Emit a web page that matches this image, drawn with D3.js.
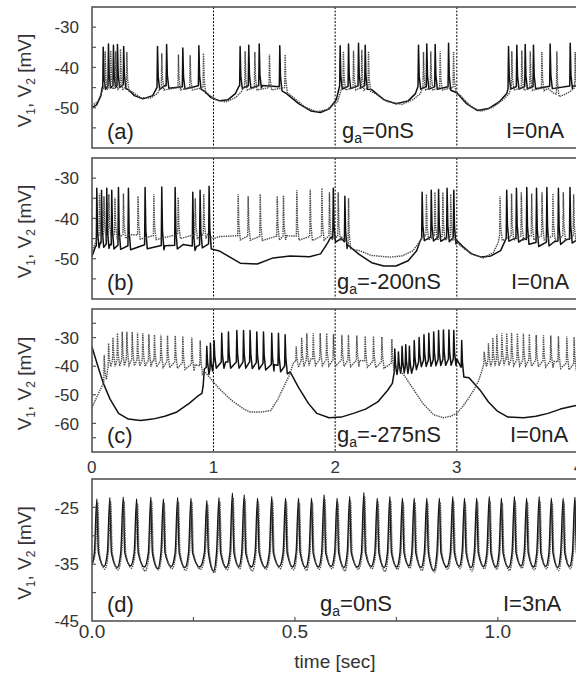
<!DOCTYPE html>
<html><head><meta charset="utf-8">
<script src="https://cdn.jsdelivr.net/npm/d3@7"></script>
<style>
html,body{margin:0;padding:0;background:#fff;}
svg{display:block;font-family:"Liberation Sans",Arial,sans-serif;}
</style></head><body>
<svg id="chart" width="576" height="675"></svg>
<script>
// ---------------- DATA ----------------
// Panel (a) g_a = 0 nS, I = 0 nA
const aBaseSolid = [[0,-50],[0.04,-49.3],[0.075,-47],[0.085,-45],[0.15,-44.5],[0.27,-44.3],[0.30,-45.5],[0.35,-47],[0.42,-47.8],[0.50,-47],[0.535,-45],[0.60,-44.5],[0.75,-44.8],[0.89,-44.5],[0.93,-46],[0.98,-47.5],[1.05,-48.3],[1.12,-48],[1.18,-46.5],[1.21,-44.6],[1.40,-44.5],[1.55,-44.8],[1.60,-46.5],[1.70,-49],[1.80,-50.8],[1.88,-51.2],[1.95,-50.3],[2.01,-48],[2.035,-44.8],[2.25,-44.5],[2.30,-45.5],[2.40,-48],[2.50,-49],[2.60,-48.3],[2.66,-46.5],[2.68,-44.8],[2.94,-44.8],[3.00,-46.3],[3.08,-49],[3.17,-50.7],[3.26,-50.2],[3.35,-48.5],[3.41,-46.5],[3.425,-44.8],[3.95,-44.6],[4.0,-44.6]];
const aSpikesSolid = [[0.094,-35.0],[0.137,-34.2],[0.178,-34.5],[0.211,-34.3],[0.262,-34.8],[0.540,-34.8],[0.615,-34.3],[0.748,-35.2],[0.880,-34.6],[1.219,-34.8],[1.290,-34.5],[1.376,-34.2],[1.545,-34.6],[2.041,-34.6],[2.110,-34.2],[2.192,-34.0],[2.247,-34.5],[2.685,-34.5],[2.753,-34.2],[2.822,-34.3],[2.932,-34.0],[3.425,-34.8],[3.493,-34.5],[3.562,-34.3],[3.630,-34.5],[3.767,-34.2],[3.932,-34.0]];
const aBaseDotted = [[0,-49.5],[0.05,-48.5],[0.09,-45.5],[0.10,-44.8],[0.29,-44.8],[0.33,-46],[0.40,-47.5],[0.48,-47.6],[0.54,-46.5],[0.565,-45],[0.92,-45],[0.95,-46.5],[1.02,-48],[1.10,-48.6],[1.18,-47.5],[1.23,-46],[1.245,-45],[1.59,-45],[1.64,-47],[1.75,-49.8],[1.85,-51],[1.93,-50.5],[2.02,-48.5],[2.055,-45],[2.28,-45],[2.33,-46.5],[2.43,-48.5],[2.55,-49.2],[2.64,-48],[2.70,-46.5],[2.72,-45],[2.98,-45],[3.03,-47],[3.12,-49.8],[3.20,-50.9],[3.30,-49.8],[3.38,-48],[3.43,-46.5],[3.445,-45],[3.75,-45.2],[3.80,-46.5],[3.88,-46.8],[3.93,-46],[3.97,-45],[4.0,-45]];
const aSpikesDotted = [[0.110,-36.0],[0.156,-35.8],[0.197,-36.0],[0.236,-35.5],[0.288,-36.2],[0.575,-36.5],[0.712,-36.8],[0.808,-37.0],[0.918,-36.5],[1.260,-36.0],[1.340,-36.2],[1.460,-36.8],[1.589,-36.8],[2.068,-36.0],[2.151,-35.8],[2.219,-35.6],[2.274,-36.0],[2.726,-36.2],[2.786,-36.0],[2.863,-36.0],[2.973,-36.2],[3.452,-36.0],[3.534,-35.8],[3.603,-36.0],[3.699,-36.2],[3.822,-36.0],[3.973,-36.2]];

// Panel (b) g_a = -200 nS, I = 0 nA
const bBaseSolid = [[0,-49.5],[0.03,-47],[0.07,-46],[0.15,-46.5],[0.30,-46.8],[0.45,-46.5],[0.60,-46.8],[0.75,-46.5],[0.86,-47],[0.90,-46.3],[0.97,-46.3],[1.05,-48.1],[1.22,-51.1],[1.36,-51.3],[1.49,-49.8],[1.63,-49.3],[1.79,-49.5],[1.88,-48.8],[1.94,-46],[1.96,-44.8],[2.05,-45],[2.10,-46.5],[2.20,-49],[2.30,-51],[2.40,-51.8],[2.50,-51.8],[2.60,-50.5],[2.67,-48],[2.70,-45.5],[2.72,-44.5],[2.97,-44.8],[3.00,-45.5],[3.05,-47],[3.12,-48.8],[3.20,-49.6],[3.28,-49.3],[3.36,-48],[3.39,-46],[3.41,-44.6],[3.55,-45],[3.65,-46],[3.80,-45.8],[3.90,-45.2],[4.0,-45]];
const bSpikesSolid = [[0.041,-32.5],[0.080,-33.0],[0.123,-32.5],[0.164,-33.0],[0.219,-32.3],[0.301,-32.5],[0.438,-32.3],[0.575,-32.2],[0.685,-32.3],[0.830,-33.5],[0.890,-33.0],[0.964,-32.0],[1.985,-32.5],[2.080,-34.5],[2.715,-33.5],[2.790,-33.0],[2.850,-32.8],[2.920,-32.5],[2.975,-33.0],[3.410,-33.0],[3.490,-32.5],[3.575,-32.3],[3.655,-32.5],[3.740,-32.3],[3.835,-32.5],[3.930,-32.3]];
const bBaseDotted = [[0,-48.5],[0.03,-46],[0.06,-44],[0.30,-44],[0.50,-44.3],[0.70,-44],[0.95,-44],[1.00,-45],[1.05,-44.5],[1.20,-44.3],[1.40,-44.5],[1.60,-44.3],[1.80,-44.5],[1.96,-44.3],[2.05,-44.5],[2.10,-46],[2.20,-48],[2.30,-49.2],[2.45,-49.6],[2.55,-49.3],[2.64,-48],[2.70,-45.5],[2.72,-44.3],[2.97,-44.5],[3.00,-46],[3.06,-47.5],[3.14,-49],[3.22,-49.8],[3.30,-48.5],[3.34,-46],[3.35,-44.5],[3.60,-44.3],[4.0,-44.5]];
const bSpikesDotted = [[0.063,-33.8],[0.100,-34.5],[0.140,-34.0],[0.190,-34.8],[0.260,-33.8],[0.380,-34.5],[0.510,-34.0],[0.710,-34.8],[0.850,-35.0],[0.920,-34.0],[1.203,-34.0],[1.285,-34.5],[1.384,-34.0],[1.524,-34.5],[1.575,-34.3],[1.685,-33.0],[1.795,-32.8],[1.891,-32.5],[1.953,-33.5],[2.025,-33.5],[2.110,-35.0],[2.750,-34.0],[2.820,-33.5],[2.885,-33.5],[2.950,-34.0],[3.355,-34.5],[3.450,-33.8],[3.530,-33.5],[3.615,-33.8],[3.700,-33.5],[3.790,-33.8],[3.875,-33.5],[3.960,-34.0]];

// Panel (c) g_a = -275 nS, I = 0 nA
const cBaseSolid = [[0,-33],[0.05,-40],[0.095,-46],[0.15,-51.5],[0.22,-56.5],[0.30,-58.5],[0.40,-59],[0.50,-58.5],[0.60,-57.5],[0.70,-56],[0.80,-53],[0.87,-50.5],[0.905,-49.5],[0.915,-47],[0.925,-41],[0.95,-40],[0.98,-41.5],[1.00,-38.5],[1.10,-38.5],[1.30,-38.5],[1.50,-39.5],[1.60,-40],[1.63,-42],[1.70,-47.5],[1.78,-53],[1.85,-56.5],[1.95,-58],[2.05,-57.8],[2.15,-56.5],[2.25,-55],[2.35,-52.5],[2.43,-48.5],[2.47,-46],[2.49,-41],[2.55,-40],[2.62,-40.5],[2.70,-38],[2.90,-37.5],[3.00,-37.5],[3.03,-40],[3.10,-44],[3.19,-48.3],[3.26,-52.5],[3.33,-55.6],[3.42,-57.8],[3.55,-58],[3.65,-57.5],[3.75,-56.5],[3.85,-55],[3.95,-54],[4.0,-53.5]];
const cSpikesSolid = [[0.945,-33],[0.975,-32],[1.005,-31],[1.068,-28.5],[1.123,-28],[1.192,-27.5],[1.247,-27.5],[1.301,-27.5],[1.356,-28],[1.411,-28],[1.479,-28.5],[1.534,-28.5],[1.589,-29],[2.490,-34],[2.520,-35],[2.550,-33],[2.580,-32.5],[2.610,-33],[2.650,-31],[2.690,-30],[2.730,-29],[2.770,-28.5],[2.810,-28],[2.850,-27.5],[2.890,-27.3],[2.935,-27.3],[2.975,-27.5],[3.040,-31]];
const cBaseDotted = [[0,-54.5],[0.05,-50],[0.095,-46],[0.13,-41],[0.15,-38],[0.30,-37.5],[0.50,-38],[0.70,-38.5],[0.85,-39.5],[0.90,-40],[0.93,-42],[0.97,-44],[1.05,-48],[1.15,-52],[1.25,-55],[1.30,-56],[1.40,-56],[1.47,-55.5],[1.53,-51.5],[1.58,-47],[1.62,-43.5],[1.66,-38.5],[1.80,-37.5],[2.00,-37.8],[2.20,-38],[2.40,-38.5],[2.47,-39],[2.52,-40.5],[2.58,-44],[2.65,-48.5],[2.72,-53],[2.81,-57],[2.89,-58],[2.95,-57.5],[3.00,-56.5],[3.05,-54],[3.10,-51],[3.14,-48.3],[3.18,-45],[3.21,-41],[3.23,-38],[3.40,-37.5],[3.60,-37.8],[3.80,-38.3],[4.0,-39.5]];
const cSpikesDotted = [[0.102,-36],[0.138,-32],[0.174,-30],[0.211,-28.5],[0.250,-28],[0.288,-28],[0.332,-28],[0.376,-28.3],[0.419,-28.5],[0.469,-28.8],[0.515,-29],[0.568,-29],[0.622,-29.3],[0.686,-29.3],[0.748,-29.5],[0.822,-30],[0.891,-31],[1.680,-33],[1.725,-30],[1.767,-28.5],[1.820,-28.5],[1.877,-28.4],[1.930,-28.5],[1.986,-28.8],[2.055,-29],[2.109,-29],[2.178,-29.3],[2.247,-29.5],[2.315,-29.5],[2.384,-29.8],[2.466,-30.5],[3.225,-35],[3.260,-32],[3.296,-30],[3.329,-28.8],[3.370,-28.5],[3.410,-28.4],[3.450,-28.4],[3.498,-28.5],[3.547,-28.6],[3.596,-28.8],[3.652,-29],[3.712,-29.2],[3.772,-29.3],[3.835,-29.5],[3.904,-29.6],[3.964,-29.8]];

// Panel (d) g_a = 0 nS, I = 3 nA  (spike times, peaks, following troughs)
const dSpikeTimes = [0.012,0.044,0.077,0.110,0.145,0.176,0.211,0.244,0.283,0.313,0.346,0.375,0.408,0.443,0.477,0.509,0.541,0.572,0.604,0.635,0.670,0.703,0.734,0.765,0.794,0.825,0.856,0.889,0.918,0.948,0.979,1.009,1.041,1.071,1.102,1.132,1.161,1.190];
const dPeaksSolid = [-23.5,-23.3,-23.2,-23.5,-23.2,-23.5,-23.3,-23.4,-23.8,-23.3,-22.5,-22.8,-23.4,-23.1,-23.4,-23.4,-23.4,-22.8,-23.4,-23.1,-22.4,-23.4,-23.1,-23.4,-23.4,-23.4,-23.4,-23.1,-23.4,-23.4,-23.1,-23.4,-23.1,-23.4,-23.1,-23.4,-23.4,-23.2];
const dTroughsSolid = [-35.4,-35.6,-35.3,-35.5,-35.8,-35.4,-35.6,-35.5,-36.2,-35.6,-35.4,-35.5,-35.6,-35.4,-35.5,-35.6,-35.5,-35.4,-35.6,-35.5,-35.4,-35.6,-35.5,-35.3,-35.6,-36.1,-35.5,-35.4,-35.6,-35.4,-35.5,-35.6,-35.3,-35.5,-35.4,-35.6,-35.4,-35.5];
const dPeaksDotted = [-24.2,-24.0,-23.9,-24.3,-24.0,-24.2,-24.0,-24.1,-24.5,-24.0,-23.3,-23.6,-24.1,-23.9,-24.1,-24.2,-24.1,-23.6,-24.2,-23.9,-23.2,-24.1,-23.9,-24.2,-24.1,-24.2,-24.1,-23.9,-24.2,-24.1,-23.9,-24.2,-23.9,-24.1,-23.9,-24.2,-24.1,-24.0];
const dTroughsDotted = [-35.9,-36.0,-35.7,-36.2,-36.0,-35.8,-36.1,-35.9,-36.5,-36.0,-35.8,-36.2,-35.9,-35.8,-36.0,-36.1,-35.9,-35.8,-36.2,-35.9,-35.8,-36.3,-35.9,-35.7,-36.1,-36.4,-35.9,-35.8,-36.2,-35.8,-35.9,-36.1,-35.7,-36.0,-35.8,-36.1,-35.8,-35.9];
const dShoulder = -33.0;
const dStart = -35.0;
// post-spike undershoot below the slow baseline, per panel (a, b, c)
const undershoot = [0.6, 1.0, 2.2];

// Axis / annotation data
const ticksAB = [-30,-35,-40,-45,-50,-55];
const labelsAB = [-30,-40,-50];
const ticksC = [-25,-30,-40,-50,-60,-65];
const labelsC = [-30,-40,-50,-60];
const ticksD = [-25,-30,-35,-40];
const labelsD = [-25,-35,-45];
const timeTicksC = [0,1,2,3,4];
const timeTicksD = [0.25,0.5,0.75,1.0];
const timeLabelsD = ["0.0","0.5","1.0"];
const dashedTimes = [1,2,3];
const panelLetters = ["(a)","(b)","(c)","(d)"];
const gaValues = ["=0nS","=-200nS","=-275nS","=0nS"];
const currents = ["I=0nA","I=0nA","I=0nA","I=3nA"];

// ---------------- DRAWING ----------------
const svg = d3.select("#chart");
const L = 92, R = 578.5;
const panels = [
  {top:7,   bot:148, yd:[-60,-25], ticks:ticksAB, labels:labelsAB},
  {top:158, bot:299, yd:[-60,-25], ticks:ticksAB, labels:labelsAB},
  {top:309, bot:452, yd:[-70,-20], ticks:ticksC,  labels:labelsC},
  {top:479, bot:621, yd:[-45,-20], ticks:ticksD,  labels:labelsD}
];
const xT = d3.scaleLinear().domain([0,4]).range([91.8,R]);
const xD = d3.scaleLinear().domain([0,1.2]).range([L,579]);

function interp(base, t){
  if (t <= base[0][0]) return base[0][1];
  for (let i=1;i<base.length;i++){
    if (t <= base[i][0]){
      const a=base[i-1], b=base[i];
      return a[1] + (b[1]-a[1])*(t-a[0])/(b[0]-a[0]);
    }
  }
  return base[base.length-1][1];
}
function buildTrace(base, spikes, us){
  const rise=0.004, fall=0.018, mid=0.006;
  let pts = base.filter(p => !spikes.some(s => p[0] > s[0]-rise && p[0] < s[0]+fall));
  spikes.forEach(s=>{
    const b0 = interp(base, s[0]-rise), b1 = interp(base, s[0]+mid), b2 = interp(base, s[0]+fall);
    pts.push([s[0]-rise,b0],[s[0],s[1]],[s[0]+mid,b1+(s[1]-b1)*0.25],[s[0]+fall,b2-us]);
  });
  pts.sort((p,q)=>p[0]-q[0]);
  return pts;
}
function buildD(times, peaks, troughs){
  const pts=[[0,dStart]];
  times.forEach((t,i)=>{
    const next = i<times.length-1 ? times[i+1] : t+0.031;
    pts.push([t-0.006,dShoulder],[t,peaks[i]],[t+0.004,dShoulder],[t+(next-t)*0.55,troughs[i]]);
  });
  return pts;
}

const txtCol = "#333";
panels.forEach((p,i)=>{
  const y = d3.scaleLinear().domain(p.yd).range([p.bot,p.top]);
  const g = svg.append("g");
  const clipId = "clip"+i;
  svg.append("clipPath").attr("id",clipId).append("rect")
    .attr("x",L).attr("y",p.top).attr("width",R-L).attr("height",p.bot-p.top);

  if (i<3){
    g.selectAll(".dash").data(dashedTimes).enter().append("line")
      .attr("x1",d=>xT(d)).attr("x2",d=>xT(d)).attr("y1",p.top).attr("y2",p.bot)
      .attr("stroke","#000").attr("stroke-width",1).attr("stroke-dasharray","2,1.5");
  }

  const x = i<3 ? xT : xD;
  let solid, dotted;
  if (i===0){ solid=buildTrace(aBaseSolid,aSpikesSolid,undershoot[0]); dotted=buildTrace(aBaseDotted,aSpikesDotted,undershoot[0]); }
  if (i===1){ solid=buildTrace(bBaseSolid,bSpikesSolid,undershoot[1]); dotted=buildTrace(bBaseDotted,bSpikesDotted,undershoot[1]); }
  if (i===2){ solid=buildTrace(cBaseSolid,cSpikesSolid,undershoot[2]); dotted=buildTrace(cBaseDotted,cSpikesDotted,undershoot[2]); }
  if (i===3){ solid=buildD(dSpikeTimes,dPeaksSolid,dTroughsSolid); dotted=buildD(dSpikeTimes.map(t=>t+0.002),dPeaksDotted,dTroughsDotted); }
  const line = d3.line().x(d=>x(d[0])).y(d=>y(d[1]))
    .curve(i===3 ? d3.curveMonotoneX : d3.curveLinear);
  const tg = g.append("g").attr("clip-path",`url(#${clipId})`);
  tg.append("path").attr("d",line(solid)).attr("fill","none")
    .attr("stroke","#111").attr("stroke-width",1.5).attr("stroke-linejoin","round");
  tg.append("path").attr("d",line(dotted)).attr("fill","none")
    .attr("stroke","#4a4a4a").attr("stroke-width",1.4).attr("stroke-dasharray","1.4,0.9");

  g.append("rect").attr("x",L).attr("y",p.top).attr("width",R-L).attr("height",p.bot-p.top)
    .attr("fill","none").attr("stroke","#555").attr("stroke-width",1.6);

  g.selectAll(".yt").data(p.ticks).enter().append("line")
    .attr("x1",L).attr("x2",L+4).attr("y1",d=>y(d)).attr("y2",d=>y(d))
    .attr("stroke","#555").attr("stroke-width",1.2);
  g.selectAll(".yl").data(p.labels).enter().append("text")
    .attr("x",79).attr("y",d=>y(d)).attr("dy","0.36em").attr("text-anchor","end")
    .attr("font-size",17).attr("fill",txtCol).text(d=>d);

  const yt = g.append("text")
    .attr("transform",`translate(31,${(p.top+p.bot)/2+3}) rotate(-90)`)
    .attr("text-anchor","middle").attr("font-size",19).attr("fill",txtCol);
  yt.append("tspan").text("V");
  yt.append("tspan").attr("font-size",12).attr("dy",4).text("1");
  yt.append("tspan").attr("dy",-4).text(", V");
  yt.append("tspan").attr("font-size",12).attr("dy",4).text("2");
  yt.append("tspan").attr("dy",-4).text(" [mV]");

  g.append("text").attr("x",107).attr("y",p.bot-9).attr("font-size",22).attr("fill","#222").text(panelLetters[i]);
  const gx = [342,337,337,320][i];
  const ga = g.append("text").attr("x",gx).attr("y",p.bot-10).attr("font-size",22).attr("fill","#222");
  ga.append("tspan").text("g");
  ga.append("tspan").attr("font-size",14).attr("dy",5).text("a");
  ga.append("tspan").attr("dy",-5).text(gaValues[i]);
  const ix = [506,511,510,503][i];
  g.append("text").attr("x",ix).attr("y",p.bot-10).attr("font-size",22).attr("fill","#222").text(currents[i]);

  if (i===3){
    g.selectAll(".xt").data(timeTicksD).enter().append("line")
      .attr("x1",d=>xD(d)).attr("x2",d=>xD(d)).attr("y1",p.bot).attr("y2",p.bot-4)
      .attr("stroke","#555").attr("stroke-width",1.2);
    g.selectAll(".xl").data(timeLabelsD).enter().append("text")
      .attr("x",d=>xD(+d)).attr("y",p.bot+17).attr("text-anchor","middle")
      .attr("font-size",19).attr("fill",txtCol).text(d=>d);
    g.append("text").attr("x",335).attr("y",668).attr("text-anchor","middle")
      .attr("font-size",19).attr("fill",txtCol).text("time [sec]");
  }
});

// time labels below panel (c); the last one sits on the page edge as in the reference
svg.selectAll(".tc").data(timeTicksC).enter().append("text")
  .attr("x",d=>xT(d)).attr("y",473).attr("text-anchor","middle")
  .attr("font-size",17).attr("fill",txtCol).text(d=>d);
</script>
</body></html>
